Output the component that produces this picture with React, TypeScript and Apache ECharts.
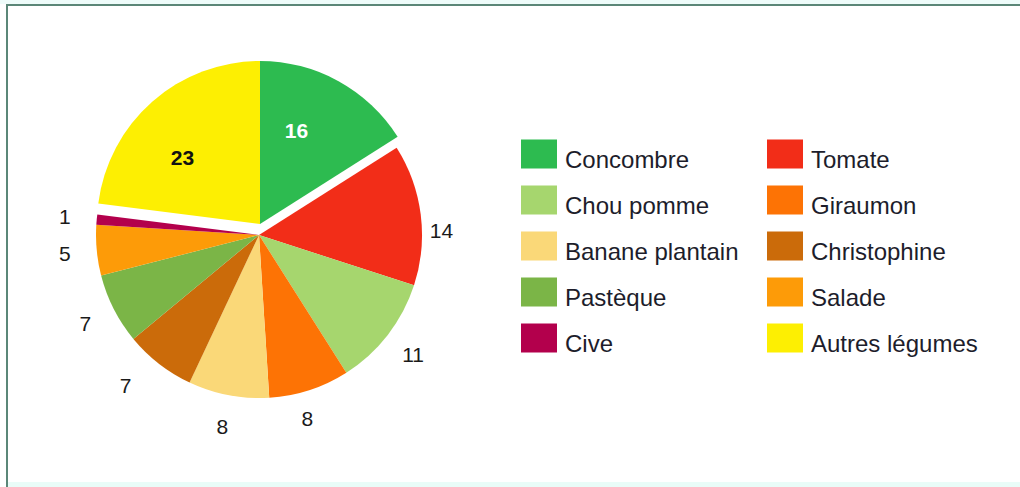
import React, { useEffect, useRef } from "react";
import * as echarts from "echarts";

const categories = [
  "Concombre",
  "Tomate",
  "Chou pomme",
  "Giraumon",
  "Banane plantain",
  "Christophine",
  "Pastèque",
  "Salade",
  "Cive",
  "Autres légumes",
];
const values = [16, 14, 11, 8, 8, 7, 7, 5, 1, 23];
const colors = [
  "#2dbb50",
  "#f22d18",
  "#a6d66e",
  "#fd7305",
  "#fad878",
  "#cb6b0a",
  "#7bb547",
  "#fd9b08",
  "#b3004c",
  "#fdef02",
];
const explodedNames = ["Concombre", "Autres légumes"];
const legendLeft = ["Concombre", "Chou pomme", "Banane plantain", "Pastèque", "Cive"];
const legendRight = ["Tomate", "Giraumon", "Christophine", "Salade", "Autres légumes"];

const FONT = "'Liberation Sans', Arial, sans-serif";
const CLEAR = "rgba(0,0,0,0)";

export default function App() {
  const ref = useRef<HTMLDivElement>(null);

  useEffect(() => {
    if (!ref.current) return;
    const chart = echarts.init(ref.current, null, { renderer: "svg" });

    const isExp = (n: string) => explodedNames.includes(n);
    const mainCenter = [259, 235];
    const expCenter = [260, 224];
    const R = 163;
    const innerOffsets: Record<string, number[]> = {
      Concombre: [-12, -5],
      "Autres légumes": [-11, 9],
    };
    const outerOffsets: Record<string, number[]> = {
      Tomate: [-11, 20],
      Giraumon: [-12, -2],
      Christophine: [-14, -4],
    };

    const mainData = categories.map((n, i) =>
      isExp(n)
        ? { name: "gap-m-" + i, value: values[i], itemStyle: { color: CLEAR } }
        : { name: n, value: values[i], itemStyle: { color: colors[i] } }
    );
    const expData = categories.map((n, i) =>
      isExp(n)
        ? { name: n, value: values[i], itemStyle: { color: colors[i] } }
        : { name: "gap-e-" + i, value: values[i], itemStyle: { color: CLEAR } }
    );
    const outerLabelData = categories.map((n, i) => ({
      name: "lo-" + i,
      value: values[i],
      itemStyle: { color: CLEAR },
      label: { show: !isExp(n), offset: outerOffsets[n] || [0, 0] },
    }));
    const innerLabelData = categories.map((n, i) => ({
      name: "li-" + i,
      value: values[i],
      itemStyle: { color: CLEAR },
      label: {
        show: isExp(n),
        color: n === "Concombre" ? "#ffffff" : "#111111",
        offset: innerOffsets[n] || [0, 0],
      },
    }));

    const legendCommon = {
      orient: "vertical" as const,
      top: 132,
      itemWidth: 36,
      itemHeight: 29,
      itemGap: 12,
      icon: "rect",
      selectedMode: false,
      formatter: (name: string) => "{t|" + name + "}",
      textStyle: {
        fontFamily: FONT,
        fontSize: 24,
        color: "#1d1d2b",
        rich: {
          t: {
            fontFamily: FONT,
            fontSize: 24,
            lineHeight: 24,
            color: "#1d1d2b",
            padding: [10, 0, 0, 3],
          },
        },
      },
    };

    chart.setOption({
      animation: false,
      backgroundColor: "#ffffff",
      legend: [
        { ...legendCommon, left: 516, data: legendLeft },
        { ...legendCommon, left: 762, data: legendRight },
      ],
      graphic: [
        { type: "rect", shape: { x: 0, y: 0, width: 1020, height: 4 }, style: { fill: "#eefcfa" }, silent: true },
        { type: "rect", shape: { x: 6, y: 4, width: 1014, height: 2 }, style: { fill: "#5b8778" }, silent: true },
        { type: "rect", shape: { x: 6, y: 4, width: 2, height: 483 }, style: { fill: "#5b8778" }, silent: true },
        { type: "rect", shape: { x: 8, y: 482, width: 1012, height: 5 }, style: { fill: "#e9fcf8" }, silent: true },
      ],
      series: [
        {
          type: "pie",
          name: "main",
          center: mainCenter,
          radius: [0, R],
          startAngle: 90,
          clockwise: true,
          label: { show: false },
          labelLine: { show: false },
          emphasis: { disabled: true },
          data: mainData,
        },
        {
          type: "pie",
          name: "exploded",
          center: expCenter,
          radius: [0, R],
          startAngle: 90,
          clockwise: true,
          label: { show: false },
          labelLine: { show: false },
          emphasis: { disabled: true },
          data: expData,
        },
        {
          type: "pie",
          name: "outerLabels",
          center: mainCenter,
          radius: [R, R + 58],
          startAngle: 90,
          clockwise: true,
          silent: true,
          avoidLabelOverlap: false,
          label: {
            position: "inside",
            formatter: "{c}",
            fontFamily: FONT,
            fontSize: 21,
            color: "#1a1a1a",
          },
          labelLine: { show: false },
          emphasis: { disabled: true },
          data: outerLabelData,
        },
        {
          type: "pie",
          name: "innerLabels",
          center: expCenter,
          radius: [32, R],
          startAngle: 90,
          clockwise: true,
          silent: true,
          avoidLabelOverlap: false,
          label: {
            position: "inside",
            formatter: "{c}",
            fontFamily: FONT,
            fontSize: 21,
            fontWeight: "bold",
          },
          labelLine: { show: false },
          emphasis: { disabled: true },
          data: innerLabelData,
        },
      ],
    });

    return () => chart.dispose();
  }, []);

  return (
    <div
      ref={ref}
      style={{ position: "fixed", left: 0, top: 0, width: 1020, height: 487 }}
    />
  );
}
